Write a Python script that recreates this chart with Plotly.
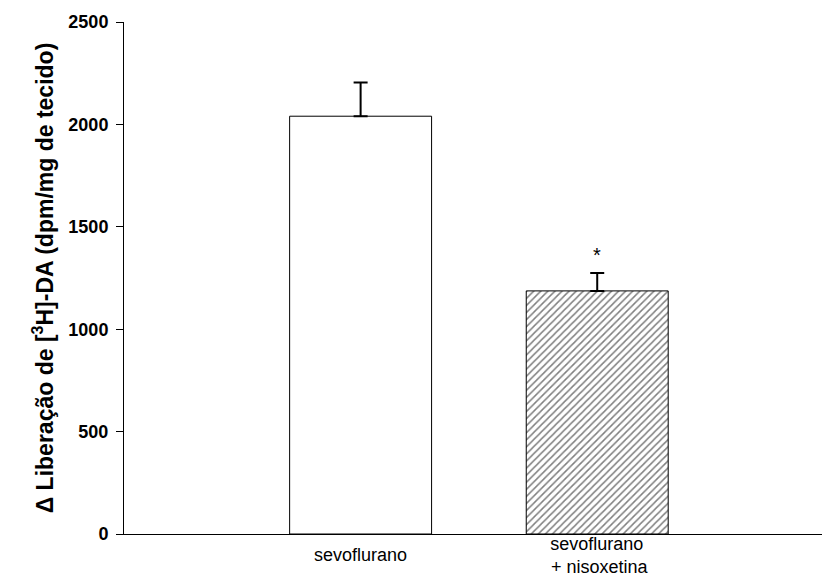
import plotly.graph_objects as go

categories = ["sevoflurano", "sevoflurano<br> + nisoxetina"]
means = [2040, 1187]
errors = [165, 87]
star_y = 1360

fig = go.Figure()
fig.add_trace(go.Bar(
    x=[0], y=[means[0]], width=0.6,
    marker=dict(color="white", line=dict(color="black", width=1)),
    error_y=dict(type="data", array=[errors[0]], arrayminus=[0], color="black", thickness=2, width=7),
))
fig.add_trace(go.Bar(
    x=[1], y=[means[1]], width=0.6,
    marker=dict(color="white", line=dict(color="black", width=1),
                pattern=dict(shape="/", fgcolor="black", bgcolor="white", size=5, solidity=0.3)),
    error_y=dict(type="data", array=[errors[1]], arrayminus=[0], color="black", thickness=2, width=7),
))
fig.add_annotation(x=1, y=star_y, text="*", showarrow=False,
                   font=dict(family="Liberation Sans, Arial", size=20, color="black"))

for i, lab in enumerate(categories):
    fig.add_annotation(x=i, y=0, xref="x", yref="paper", text=lab, showarrow=False,
                       yanchor="middle", yshift=-21, align="center",
                       font=dict(family="Liberation Sans, Arial", size=18, color="black"))

fig.update_layout(
    width=822, height=576, showlegend=False,
    paper_bgcolor="white", plot_bgcolor="white",
    margin=dict(l=124, r=0, t=22, b=42),
    font=dict(family="Liberation Sans, Arial", color="black"),
    xaxis=dict(range=[-1.0, 1.95], showticklabels=False, showline=True, linecolor="black",
               linewidth=1, ticks="", showgrid=False, zeroline=False, automargin=False),
    yaxis=dict(range=[0, 2500], tickvals=[0, 500, 1000, 1500, 2000, 2500], showline=True, linecolor="black",
               linewidth=1, ticks="outside", ticklen=7, tickcolor="black", showgrid=False, zeroline=False,
               ticklabelstandoff=4, automargin=False,
               tickfont=dict(size=18, family="Liberation Sans, Arial", weight="bold"),
               title=dict(text="<b>Δ Liberação de [<sup>3</sup>H]-DA (dpm/mg de tecido)</b>",
                          font=dict(size=23), standoff=8)),
)
fig.write_html("out.html")
